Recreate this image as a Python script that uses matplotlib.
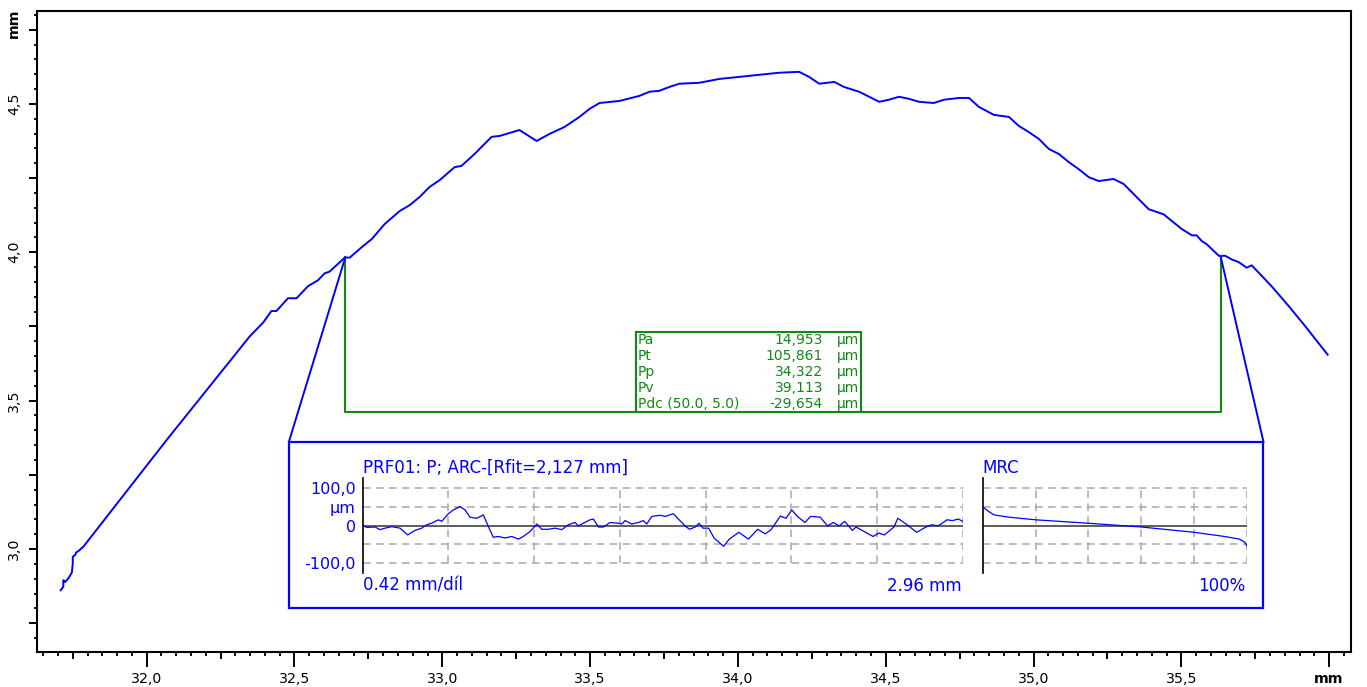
import numpy as np
import matplotlib
matplotlib.use("Agg")
import matplotlib.pyplot as plt
from matplotlib.patches import Rectangle

# ---- data ----
# measured primary profile [mm]
prof_x = [31.709, 31.718, 31.718, 31.724, 31.735, 31.747, 31.750, 31.750, 31.758, 31.762,
          31.769, 31.786, 32.068, 32.349, 32.394, 32.422, 32.439, 32.478, 32.507, 32.546,
          32.580, 32.602, 32.619, 32.670, 32.687, 32.732, 32.761, 32.805, 32.856, 32.890,
          32.923, 32.957, 32.991, 33.042, 33.065, 33.109, 33.143, 33.167, 33.194, 33.228,
          33.261, 33.319, 33.363, 33.413, 33.464, 33.498, 33.532, 33.600, 33.667, 33.701,
          33.734, 33.768, 33.802, 33.869, 33.937, 34.005, 34.072, 34.140, 34.207, 34.241,
          34.275, 34.326, 34.359, 34.410, 34.444, 34.478, 34.511, 34.545, 34.579, 34.613,
          34.663, 34.697, 34.748, 34.782, 34.815, 34.866, 34.917, 34.950, 34.984, 35.018,
          35.052, 35.086, 35.119, 35.153, 35.187, 35.221, 35.271, 35.305, 35.356, 35.390,
          35.440, 35.502, 35.536, 35.552, 35.569, 35.586, 35.627, 35.649, 35.670, 35.694,
          35.721, 35.738, 35.805, 35.863, 35.919, 35.995]
prof_y = [2.861, 2.873, 2.895, 2.889, 2.901, 2.921, 2.952, 2.974, 2.980, 2.989,
          2.993, 3.008, 3.368, 3.717, 3.763, 3.802, 3.802, 3.845, 3.845, 3.886,
          3.906, 3.929, 3.935, 3.982, 3.982, 4.021, 4.044, 4.095, 4.139, 4.159,
          4.186, 4.220, 4.243, 4.287, 4.291, 4.331, 4.365, 4.389, 4.392, 4.402,
          4.412, 4.375, 4.399, 4.422, 4.456, 4.483, 4.503, 4.510, 4.527, 4.541,
          4.544, 4.557, 4.568, 4.571, 4.584, 4.591, 4.598, 4.605, 4.608, 4.591,
          4.568, 4.574, 4.557, 4.541, 4.524, 4.507, 4.514, 4.524, 4.517, 4.507,
          4.503, 4.514, 4.520, 4.520, 4.490, 4.463, 4.456, 4.426, 4.405, 4.382,
          4.348, 4.331, 4.304, 4.280, 4.253, 4.240, 4.247, 4.230, 4.179, 4.145,
          4.128, 4.078, 4.057, 4.057, 4.038, 4.027, 3.988, 3.988, 3.976, 3.967,
          3.948, 3.956, 3.886, 3.819, 3.751, 3.655]

# evaluation window and zoom box [mm]
win_x = [32.672, 35.633]
win_y = [3.983, 3.986]
win_bottom = 3.463
zoom_x = [32.481, 35.778]
zoom_y = [2.801, 3.361]
table_x = [33.654, 34.417]
table_y = [3.463, 3.730]

param_names = ["Pa", "Pt", "Pp", "Pv", "Pdc (50.0, 5.0)"]
param_values = ["14,953", "105,861", "34,322", "39,113", "-29,654"]
param_unit = "µm"

# roughness profile after ARC removal [mm, µm]
rough_x = [0.000, 0.020, 0.061, 0.085, 0.110, 0.143, 0.184, 0.222, 0.258, 0.291,
           0.316, 0.340, 0.373, 0.390, 0.422, 0.447, 0.480, 0.505, 0.529, 0.562,
           0.595, 0.620, 0.644, 0.669, 0.702, 0.735, 0.768, 0.792, 0.825, 0.859,
           0.883, 0.916, 0.949, 0.982, 1.014, 1.047, 1.064, 1.088, 1.121, 1.138,
           1.162, 1.187, 1.220, 1.261, 1.278, 1.294, 1.327, 1.360, 1.384, 1.401,
           1.426, 1.467, 1.492, 1.532, 1.557, 1.594, 1.612, 1.640, 1.659, 1.678,
           1.706, 1.733, 1.780, 1.808, 1.855, 1.873, 1.902, 1.948, 1.985, 2.014,
           2.060, 2.088, 2.116, 2.144, 2.181, 2.209, 2.256, 2.293, 2.321, 2.350,
           2.377, 2.415, 2.433, 2.480, 2.517, 2.545, 2.573, 2.620, 2.639, 2.685,
           2.732, 2.778, 2.806, 2.835, 2.853, 2.881, 2.909, 2.937, 2.960]
rough_y = [0, -5, -4, -11, -7, -3, -7, -25, -13, -7,
           2, 6, 15, 11, 31, 41, 50, 41, 22, 19,
           28, -3, -31, -29, -33, -29, -36, -29, -16, 4,
           -10, -10, -7, -11, 2, 8, -1, 6, 15, 17,
           -4, -4, 8, 6, 4, 13, 4, 8, 13, 4,
           24, 27, 24, 31, 17, -3, -10, -4, 6, -7,
           -7, -33, -55, -36, -18, -25, -36, -10, -22, -11,
           25, 19, 41, 24, 8, 24, 22, -1, 8, -1,
           11, -13, -4, -18, -29, -20, -25, -4, 19, 2,
           -18, -4, 2, -1, 4, 15, 13, 17, 11]

# material ratio curve [%, µm]
mrc_pct = [0, 1.7, 4.3, 10, 20, 40, 60, 80, 91.4, 97.1, 99.0, 100]
mrc_um = [50, 40, 28, 22, 15, 6, -4, -18, -29, -36, -44, -55]

x_major = [32.0, 32.5, 33.0, 33.5, 34.0, 34.5, 35.0, 35.5, 36.0]
x_labels = ["32,0", "32,5", "33,0", "33,5", "34,0", "34,5", "35,0", "35,5", "mm"]
x_mid = [31.75, 32.25, 32.75, 33.25, 33.75, 34.25, 34.75, 35.25, 35.75]
y_major = [3.0, 3.5, 4.0, 4.5]
y_labels = ["3,0", "3,5", "4,0", "4,5"]
y_mid = [2.75, 3.25, 3.75, 4.25, 4.75]

BLUE = "#0000ff"
GREEN = "#108a10"
GRID = "#a8a8a8"
W, H = 1367, 687

fig = plt.figure(figsize=(W / 100, H / 100), dpi=100)
ax = fig.add_axes([37.3 / W, 1 - 652 / H, 1313.4 / W, 641 / H])
ax.set_xlim(31.630, 36.073)
ax.set_ylim(2.653, 4.813)

ax.plot(prof_x, prof_y, color=BLUE, lw=1.4)

# evaluation window (green)
ax.plot([win_x[0], win_x[0], win_x[1], win_x[1]],
        [win_y[0], win_bottom, win_bottom, win_y[1]], color=GREEN, lw=1.5)
# zoom box (blue)
ax.add_patch(Rectangle((zoom_x[0], zoom_y[0]), zoom_x[1] - zoom_x[0], zoom_y[1] - zoom_y[0],
                       fill=False, ec=BLUE, lw=1.6))
ax.plot([win_x[0], zoom_x[0]], [win_y[0], zoom_y[1]], color=BLUE, lw=1.4)
ax.plot([win_x[1], zoom_x[1]], [win_y[1], zoom_y[1]], color=BLUE, lw=1.4)

# parameter table
ax.add_patch(Rectangle((table_x[0], table_y[0]), table_x[1] - table_x[0], table_y[1] - table_y[0],
                       fill=True, fc="white", ec=GREEN, lw=1.5, zorder=3))
row_h = (table_y[1] - table_y[0]) / len(param_names)
for i, (nm, val) in enumerate(zip(param_names, param_values)):
    yy = table_y[1] - (i + 0.5) * row_h
    ax.text(table_x[0] + 0.008, yy, nm, color=GREEN, fontsize=10, va="center", ha="left", zorder=4)
    ax.text(34.288, yy, val, color=GREEN, fontsize=10, va="center", ha="right", zorder=4)
    ax.text(34.335, yy, param_unit, color=GREEN, fontsize=10, va="center", ha="left", zorder=4)

# ticks
for s in ax.spines.values():
    s.set_linewidth(1.5)
ax.set_xticks(x_major + x_mid)
ax.set_xticklabels(x_labels + [""] * len(x_mid))
ax.set_yticks(y_major + y_mid)
ax.set_yticklabels(y_labels + [""] * len(y_mid))
ax.xaxis.set_minor_locator(matplotlib.ticker.MultipleLocator(0.05))
ax.yaxis.set_minor_locator(matplotlib.ticker.MultipleLocator(0.05))
ax.tick_params(axis="x", which="major", length=10.8, width=1.4, pad=3.5, labelsize=10.2)
ax.tick_params(axis="x", which="minor", length=2.6, width=1.3)
ax.tick_params(axis="y", which="major", length=5.6, width=1.4, pad=6, labelsize=10.2, labelrotation=90)
ax.tick_params(axis="y", which="minor", length=2.4, width=1.3)
for t, loc in zip(ax.xaxis.get_major_ticks(), x_major + x_mid):
    if loc in x_mid:
        t.tick1line.set_markersize(5.0)
for lab in ax.get_yticklabels():
    lab.set_va("center")
ax.get_xticklabels()[len(x_major) - 1].set_fontweight("bold")
fig.text(14 / W, 1 - 23 / H, "mm", rotation=90, fontsize=10.2, fontweight="bold",
         ha="center", va="center")

# ---- inset: roughness profile ----
def inset_style(a):
    a.set_ylim(-125.5, 125.5)
    for side in ["top", "right", "bottom"]:
        a.spines[side].set_visible(False)
    a.spines["left"].set_linewidth(1.2)
    a.patch.set_alpha(0)
    a.set_xticks([])
    for v in [100, 50, -50, -100]:
        a.axhline(v, color=GRID, lw=1.1, ls=(0, (5, 3.5)), zorder=1)
    a.axhline(0, color="#505050", lw=1.3, zorder=1)

ax1 = fig.add_axes([362.7 / W, 1 - 573 / H, 600.2 / W, 95 / H])
ax1.set_xlim(0, 2.96)
inset_style(ax1)
for k in range(1, 8):
    ax1.vlines(k * 2.96 / 7, -100, 100, color=GRID, lw=1.1, ls=(0, (5, 3.5)), zorder=1)
ax1.plot(rough_x, rough_y, color=BLUE, lw=0.9, zorder=2)
ax1.set_yticks([100, 50, 0, -100])
ax1.set_yticklabels(["100,0", "µm", "0", "-100,0"])
ax1.tick_params(axis="y", length=0, pad=5, labelsize=11.5, labelcolor=BLUE)

ax2 = fig.add_axes([982.6 / W, 1 - 573 / H, 264.7 / W, 95 / H])
ax2.set_xlim(0, 100)
inset_style(ax2)
ax2.set_yticks([])
for k in range(1, 6):
    ax2.vlines(k * 20, -100, 100, color=GRID, lw=1.1, ls=(0, (5, 3.5)), zorder=1)
ax2.plot(mrc_pct, mrc_um, color=BLUE, lw=0.9, zorder=2)

fig.text(363 / W, 1 - 468 / H, "PRF01: P; ARC-[Rfit=2,127 mm]", color=BLUE, fontsize=12,
         ha="left", va="center")
fig.text(982 / W, 1 - 468 / H, "MRC", color=BLUE, fontsize=12, ha="left", va="center")
fig.text(363 / W, 1 - 586 / H, "0.42 mm/díl", color=BLUE, fontsize=12, ha="left", va="center")
fig.text(962 / W, 1 - 586 / H, "2.96 mm", color=BLUE, fontsize=12, ha="right", va="center")
fig.text(1245 / W, 1 - 586 / H, "100%", color=BLUE, fontsize=12, ha="right", va="center")

fig.savefig("out.png", dpi=100)
